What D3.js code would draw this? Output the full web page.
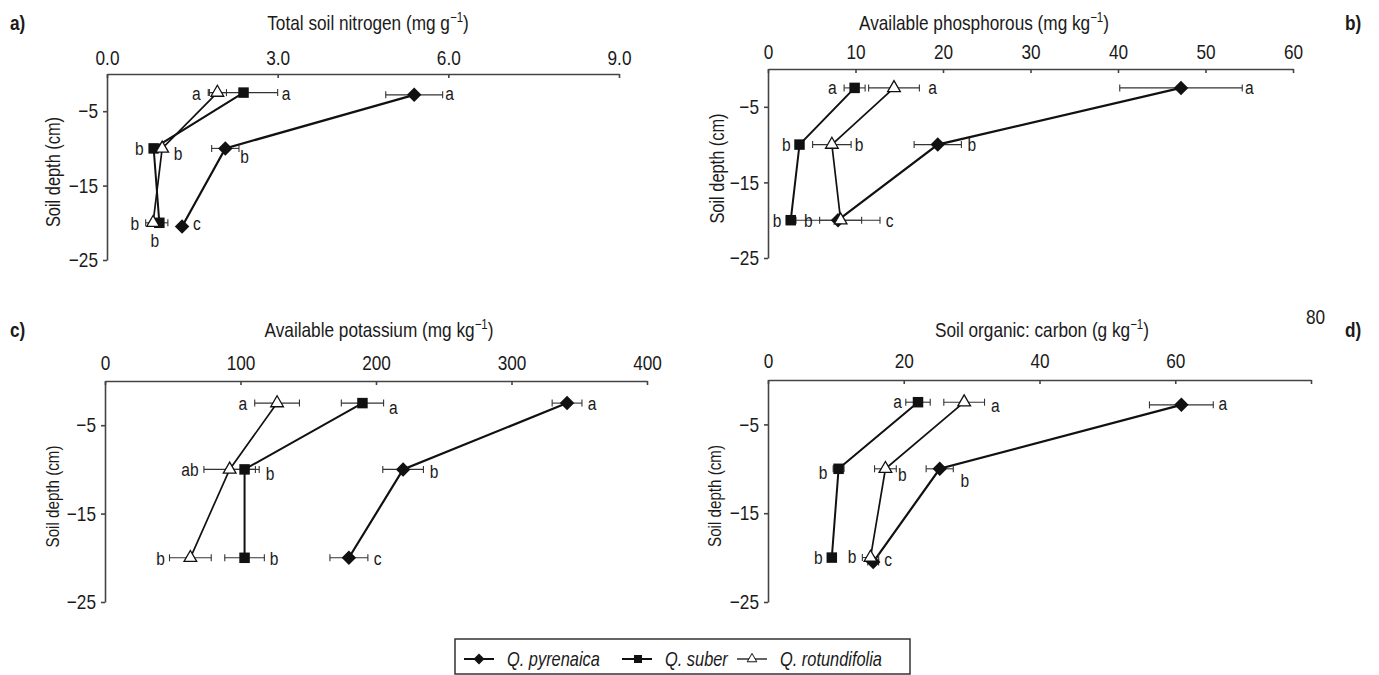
<!DOCTYPE html>
<html lang="en">
<head>
<meta charset="UTF-8" />
<title>Soil nutrients by depth</title>
<script src="https://cdn.jsdelivr.net/npm/d3@7"></script>
<style>
  body { margin: 0; background: #fff; }
  svg text { font-family: "Liberation Sans", Arial, sans-serif; fill: #1a1a1a; }
  .axis path, .axis line { stroke: #444; stroke-width: 1.6px; }
  .axis text { font-size: 21px; }
</style>
</head>
<body>
<script>
// sampling depths (cm)
const depths = [-2.5, -10, -20];
const diamondDepths = [-2.8, -10, -20.5];

// a) total soil nitrogen (mg g-1)
const nitroPyr = [5.40, 2.08, 1.32], nitroPyrErr = [0.50, 0.24, 0.05];
const nitroSub = [2.40, 0.82, 0.92], nitroSubErr = [0.60, 0.05, 0.15];
const nitroRot = [1.94, 0.97, 0.81], nitroRotErr = [0.16, 0.05, 0.13];
const nitroTicks = [0, 3, 6, 9];
const nitroLetters = [["a",1.57,-2.6],["a",3.15,-2.6],["a",6.02,-2.6],["b",0.57,-10],["b",1.25,-10.7],["b",2.42,-11],["b",0.49,-20.1],["b",0.84,-22.4],["c",1.58,-20.1]];

// b) available phosphorous (mg kg-1)
const phosPyr = [47.2, 19.4, 8.0], phosPyrErr = [7.0, 2.7, 4.8];
const phosSub = [9.9, 3.6, 2.6], phosSubErr = [1.2, 0.4, 0.5];
const phosRot = [14.4, 7.3, 8.3], phosRotErr = [2.9, 2.2, 2.4];
const phosTicks = [0, 10, 20, 30, 40, 50, 60];
const phosLetters = [["a",7.35,-2.4],["a",18.8,-2.4],["a",55.0,-2.4],["b",2.1,-10],["b",10.4,-10],["b",23.3,-10],["b",1.05,-20],["b",4.6,-20],["c",13.9,-20]];

// c) available potassium (mg kg-1)
const potPyr = [341, 220, 180], potPyrErr = [11, 15, 14];
const potSub = [190, 103, 103], potSubErr = [15.6, 10.8, 14.6];
const potRot = [127, 92, 63], potRotErr = [16.5, 19, 15.4];
const potTicks = [0, 100, 200, 300, 400];
const potLetters = [["a",101.8,-2.5],["a",212.8,-3.0],["a",359.4,-2.5],["ab",62.7,-10],["b",121.8,-10.4],["b",242.8,-10.2],["b",41.1,-20.1],["b",124.7,-20.1],["c",201.3,-20.1]];

// d) soil organic carbon (g kg-1)
const carbPyr = [60.9, 25.3, 15.5], carbPyrErr = [4.7, 2.0, 0.8];
const carbSub = [22.1, 10.4, 9.4], carbSubErr = [1.8, 0.8, 0.5];
const carbRot = [28.9, 17.3, 15.1], carbRotErr = [3.0, 1.6, 1.2];
const carbTicks = [0, 20, 40, 60, 80];
const carbLetters = [["a",19.1,-2.4],["a",33.5,-2.85],["a",67.0,-2.6],["b",8.1,-10.4],["b",19.8,-10.6],["b",29.0,-11.3],["b",7.4,-20],["b",12.4,-19.9],["c",17.7,-20.2]];

const depthTicks = [-5, -15, -25];
const speciesNames = ["Q. pyrenaica", "Q. suber", "Q. rotundifolia"];

const W = 1379, H = 675;
const svg = d3.select("body").append("svg").attr("width", W).attr("height", H);

const symDiamond = d3.symbol().type(d3.symbolSquare).size(105);
const symSquare = d3.symbol().type(d3.symbolSquare).size(110);
const symTriangle = d3.symbol().type(d3.symbolTriangle).size(70);

function styleMarker(sel, k) {
  if (k === 0) sel.attr("d", symDiamond()).attr("fill", "#111");
  else if (k === 1) sel.attr("d", symSquare()).attr("fill", "#111");
  else sel.attr("d", symTriangle()).attr("fill", "#fff").attr("stroke", "#111").attr("stroke-width", 1.3);
}

// squeeze text horizontally to mimic the condensed face of the original
function narrow(sel) {
  sel.each(function () {
    const t = d3.select(this);
    const x = +t.attr("x") || 0, y = +t.attr("y") || 0;
    const tr = t.attr("transform") || "";
    t.attr("x", 0).attr("y", 0).attr("transform", `${tr} translate(${x},${y}) scale(0.82,1)`);
  });
}

const panels = [
  { tag: "a)", tagX: 10, title: "Total soil nitrogen (mg g", titleX: 368, titleY: 30,
    xr: [107, 619], yr: [74, 260], xmax: 9, ticks: nitroTicks, fmt: d3.format(".1f"), pad: 9,
    series: [[nitroPyr, nitroPyrErr, diamondDepths], [nitroSub, nitroSubErr, depths], [nitroRot, nitroRotErr, depths]],
    letters: nitroLetters, ylab: 20, ylabX: 53 },
  { tag: "b)", tagX: 1345, title: "Available phosphorous (mg kg", titleX: 984, titleY: 30,
    xr: [768, 1293], yr: [69, 258], xmax: 60, ticks: phosTicks, fmt: d3.format("d"), pad: 10.5,
    series: [[phosPyr, phosPyrErr, depths], [phosSub, phosSubErr, depths], [phosRot, phosRotErr, depths]],
    letters: phosLetters, ylab: 20, ylabX: 717 },
  { tag: "c)", tagX: 10, title: "Available potassium (mg kg", titleX: 379, titleY: 337,
    xr: [105, 647], yr: [381, 602], xmax: 400, ticks: potTicks, fmt: d3.format("d"), pad: 11.5,
    series: [[potPyr, potPyrErr, depths], [potSub, potSubErr, depths], [potRot, potRotErr, depths]],
    letters: potLetters, ylab: 18.5, ylabX: 53 },
  { tag: "d)", tagX: 1345, title: "Soil organic: carbon (g kg", titleX: 1042, titleY: 337,
    xr: [768, 1311], yr: [380, 602], xmax: 80, ticks: carbTicks, fmt: d3.format("d"), pad: 12,
    series: [[carbPyr, carbPyrErr, diamondDepths], [carbSub, carbSubErr, depths], [carbRot, carbRotErr, depths]],
    letters: carbLetters, ylab: 18.5, ylabX: 715 }
];

panels.forEach((p, pi) => {
  const x = d3.scaleLinear().domain([0, p.xmax]).range(p.xr);
  const y = d3.scaleLinear().domain([0, -25]).range(p.yr);
  const g = svg.append("g");

  // panel tag
  g.append("text").attr("x", p.tagX).attr("y", p.titleY).attr("font-size", 21).attr("font-weight", "bold").text(p.tag);

  // title with superscript
  const t = g.append("text").attr("x", p.titleX).attr("y", p.titleY).attr("text-anchor", "middle").attr("font-size", 21);
  t.append("tspan").text(p.title);
  t.append("tspan").attr("font-size", 14).attr("dy", -8).text("\u22121");
  t.append("tspan").attr("dy", 8).text(")");

  // axes
  const xa = g.append("g").attr("class", "axis").attr("transform", `translate(0,${p.yr[0]})`)
    .call(d3.axisTop(x).tickValues(p.ticks).tickFormat(p.fmt).tickSize(-4).tickSizeOuter(0).tickPadding(p.pad));
  xa.selectAll("text").attr("fill", "#1a1a1a");
  if (pi === 3) {
    // the "80" label sits above the others in the original
    xa.selectAll(".tick").filter(d => d === 80).select("text").attr("y", -56).attr("x", 4);
  }
  const ya = g.append("g").attr("class", "axis").attr("transform", `translate(${p.xr[0]},0)`)
    .call(d3.axisLeft(y).tickValues(depthTicks).tickSize(4).tickSizeOuter(0).tickPadding(5));
  ya.selectAll("text").attr("fill", "#1a1a1a");

  g.append("text").attr("transform", `translate(${p.ylabX},${(p.yr[0] + p.yr[1]) / 2 + 5}) rotate(-90)`)
    .attr("text-anchor", "middle").attr("dy", "0.35em").attr("font-size", p.ylab).text("Soil depth (cm)");

  const widths = [2.2, 2.0, 1.7];
  const line = d3.line().x(d => x(d.v)).y(d => y(d.d));
  const rows = p.series.map(s => s[0].map((v, i) => ({ v: v, e: s[1][i], d: s[2][i] })));

  rows.forEach((r, k) => {
    g.append("path").datum(r).attr("d", line).attr("fill", "none").attr("stroke", "#111").attr("stroke-width", widths[k]);
  });
  rows.forEach(r => {
    const eb = g.append("g").attr("stroke", "#333").attr("stroke-width", 1.1);
    eb.selectAll(".bar").data(r).join("line")
      .attr("x1", d => x(d.v - d.e)).attr("x2", d => x(d.v + d.e)).attr("y1", d => y(d.d)).attr("y2", d => y(d.d));
    eb.selectAll(".capl").data(r).join("line").attr("class", "capl")
      .attr("x1", d => x(d.v - d.e)).attr("x2", d => x(d.v - d.e)).attr("y1", d => y(d.d) - 3.5).attr("y2", d => y(d.d) + 3.5);
    eb.selectAll(".capr").data(r).join("line").attr("class", "capr")
      .attr("x1", d => x(d.v + d.e)).attr("x2", d => x(d.v + d.e)).attr("y1", d => y(d.d) - 3.5).attr("y2", d => y(d.d) + 3.5);
  });
  rows.forEach((r, k) => {
    g.selectAll(".m" + k).data(r).join("path").attr("class", "m" + k)
      .call(sel => styleMarker(sel, k))
      .attr("transform", d => `translate(${x(d.v)},${y(d.d)})` + (k === 0 ? " rotate(45)" : ""));
  });

  g.selectAll(".lt").data(p.letters).join("text").attr("class", "lt")
    .attr("x", d => x(d[1])).attr("y", d => y(d[2])).attr("dy", "0.35em")
    .attr("text-anchor", "middle").attr("font-size", 19).text(d => d[0]);
});

// legend
const lg = svg.append("g");
lg.append("rect").attr("x", 455).attr("y", 639).attr("width", 455).attr("height", 35)
  .attr("fill", "#fff").attr("stroke", "#333").attr("stroke-width", 1.5);
const legX = [464, 622, 737];
speciesNames.forEach((n, k) => {
  const cy = 659;
  lg.append("line").attr("x1", legX[k]).attr("x2", legX[k] + 30).attr("y1", cy).attr("y2", cy)
    .attr("stroke", "#111").attr("stroke-width", k === 2 ? 1.3 : 2);
  const m = lg.append("path");
  if (k === 0) m.attr("d", d3.symbol().type(d3.symbolSquare).size(60)()).attr("fill", "#111").attr("transform", `translate(${legX[k] + 15},${cy}) rotate(45)`);
  else if (k === 1) m.attr("d", d3.symbol().type(d3.symbolSquare).size(64)()).attr("fill", "#111").attr("transform", `translate(${legX[k] + 16},${cy})`);
  else m.attr("d", d3.symbol().type(d3.symbolTriangle).size(40)()).attr("fill", "#fff").attr("stroke", "#111").attr("stroke-width", 1).attr("transform", `translate(${legX[k] + 15},${cy})`);
  lg.append("text").attr("x", legX[k] + 43).attr("y", cy).attr("dy", "0.35em")
    .attr("font-size", 20).attr("font-style", "italic").text(n);
});

svg.selectAll("text").call(narrow);
</script>
</body>
</html>
